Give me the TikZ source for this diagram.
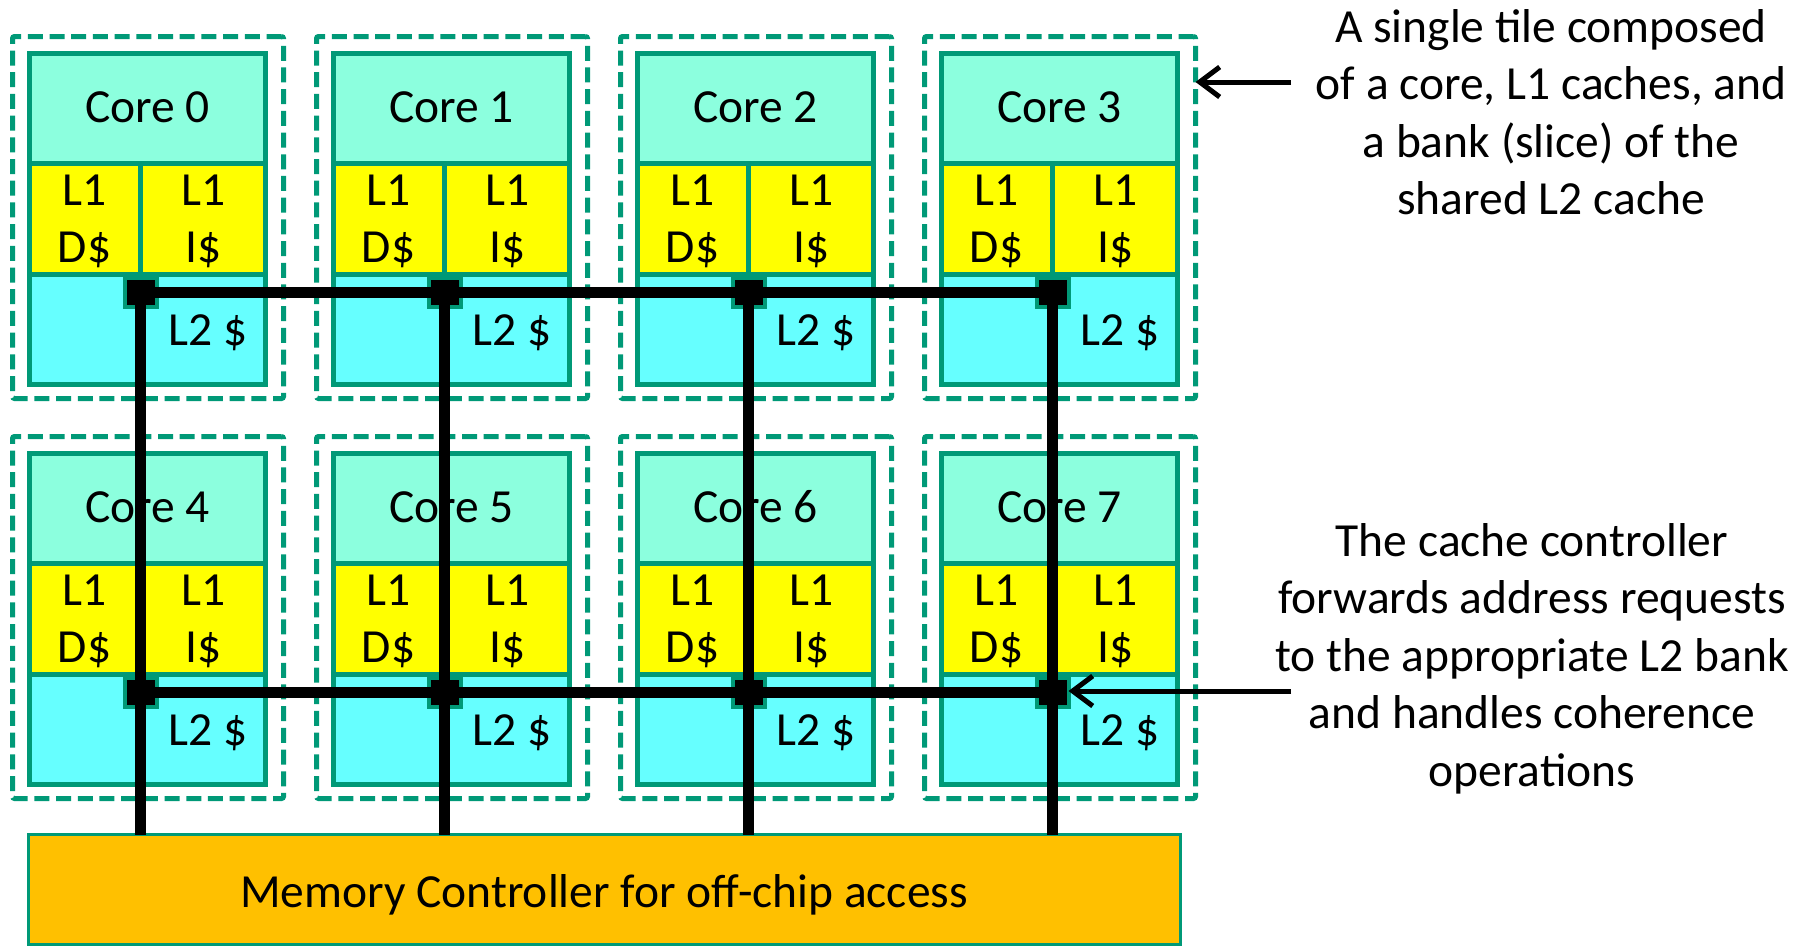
\documentclass[tikz,border=0pt]{standalone}
\usepackage{fontspec}
\setmainfont{Carlito}
\usetikzlibrary{fit,arrows.meta}
\definecolor{tealline}{HTML}{009977}
\definecolor{corefill}{HTML}{8CFFDE}
\definecolor{lonefill}{HTML}{FFFF00}
\definecolor{ltwofill}{HTML}{66FFFF}
\definecolor{memfill}{HTML}{FFC000}
\newcommand{\twolines}[2]{\begin{tabular}[t]{@{}c@{}}#1\\#2\end{tabular}}
\begin{document}
\begin{tikzpicture}[x=1pt,y=-1pt,
  font=\fontsize{47.5}{57.5}\selectfont,
  frame/.style={draw=tealline, line width=5pt, dash pattern=on 15pt off 6.7pt,
    rounded corners=2pt, inner sep=0pt, outer sep=0pt},
  part/.style={draw=tealline, line width=5pt, inner sep=0pt, outer sep=0pt},
  ctrl/.style={draw=tealline, fill=black, line width=4pt, inner sep=0pt,
    outer sep=0pt, minimum width=32pt, minimum height=29pt},
  txt/.style={anchor=base, inner sep=0pt, outer sep=0pt},
  bus/.style={line width=11pt, black},
  pointer/.style={line width=5pt, black,
    -{Straight Barb[length=20pt, width=30pt, line width=5pt]}}]
\useasboundingbox (0,0) rectangle (1812,945);
\clip (0,0) rectangle (1812,945);

% eight tiles: core, split L1, L2 bank and its cache controller
\foreach \k in {0,...,7}{
  \pgfmathsetmacro{\xo}{304*mod(\k,4)}
  \pgfmathsetmacro{\yo}{400*div(\k,4)}
  \node[frame, fit={(\xo+12.5,\yo+36.5) (\xo+283.5,\yo+398.5)}] (tile\k) {};
  \node[part, fill=corefill, fit={(\xo+29.5,\yo+53.5) (\xo+265.5,\yo+163)}] (core\k) {};
  \node[part, fill=lonefill, fit={(\xo+29.5,\yo+163) (\xo+140.5,\yo+274)}] (ld\k) {};
  \node[part, fill=lonefill, fit={(\xo+140.5,\yo+163) (\xo+265.5,\yo+274)}] (li\k) {};
  \node[part, fill=ltwofill, fit={(\xo+29.5,\yo+274) (\xo+265.5,\yo+384.5)}] (ltwo\k) {};
  \node[txt] (corelbl\k) at (\xo+147.5,\yo+122.5) {Core \k};
  \node[txt] (ldlbl\k) at (\xo+84.5,\yo+205) {\twolines{L1}{D\$}};
  \node[txt] (lilbl\k) at (\xo+203.5,\yo+205) {\twolines{L1}{I\$}};
  \node[txt] (ltwolbl\k) at (\xo+208,\yo+345) {L2 \$};
  \node[ctrl] (cc\k) at (\xo+140.5,\yo+292) {};
}

% memory controller
\node[part, fill=memfill, line width=3pt, fit={(28.5,834.5) (1180.5,944)}] (mem) {};
\node[txt] (memlbl) at (604,907) {Memory Controller for off-chip access};

% interconnect
\foreach \c in {0,1,2,3}{
  \pgfmathtruncatemacro{\d}{\c+4}
  \draw[bus] (cc\c.center) -- (cc\d.center) -- (cc\d.center |- mem.north);
}
\draw[bus] (cc0.center) -- (cc3.center);
\draw[bus] (cc4.center) -- (cc7.center);

% annotations
\node[txt] (note1) at (1551,42) {\begin{tabular}[t]{@{}c@{}}A single tile composed\\of a core, L1 caches, and\\a bank (slice) of the\\shared L2 cache\end{tabular}};
\node[txt] (note2) at (1532,556) {\begin{tabular}[t]{@{}c@{}}The cache controller\\forwards address requests\\to the appropriate L2 bank\\and handles coherence\\operations\end{tabular}};
\coordinate (a1) at (1291,82);
\coordinate (a2) at (1291,691);
\draw[pointer] (a1) -- (a1 -| tile3.east);
\draw[pointer] (a2) -- (a2 -| cc7.east);
\end{tikzpicture}
\end{document}
